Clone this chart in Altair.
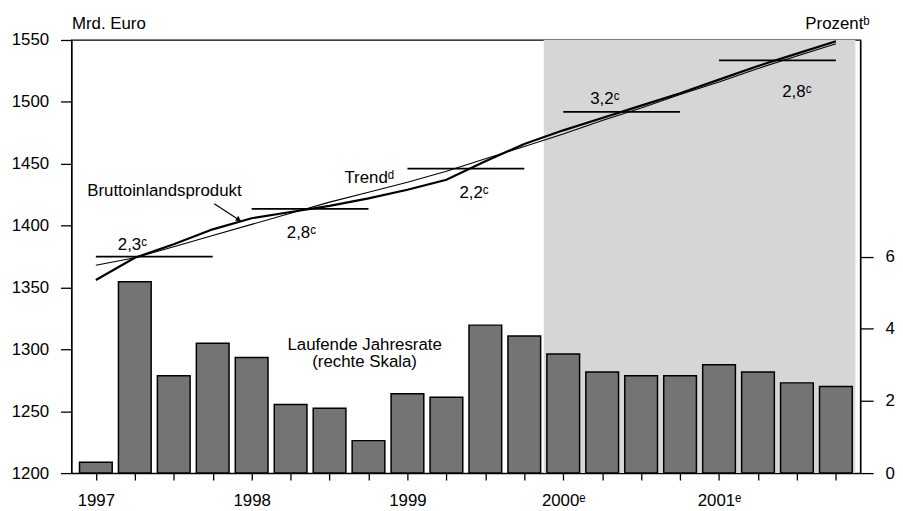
import altair as alt
import pandas as pd

# ---------------- data ----------------
years = [1997, 1998, 1999, 2000, 2001]
year_labels = ["1997", "1998", "1999", "2000ᵉ", "2001ᵉ"]
quarters = [f"{y} Q{k}" for y in years for k in range(1, 5)]

# laufende Jahresrate, Prozent (rechte Skala)
rate = [0.3, 5.3, 2.7, 3.6, 3.2, 1.9, 1.8, 0.9, 2.2, 2.1,
        4.1, 3.8, 3.3, 2.8, 2.7, 2.7, 3.0, 2.8, 2.5, 2.4]
# Bruttoinlandsprodukt, Mrd. Euro
gdp = [1356, 1374, 1385, 1397, 1406, 1411, 1416, 1422, 1429, 1437,
       1452, 1466, 1477, 1487, 1497, 1507, 1518, 1529, 1539, 1549]
# Trend, Mrd. Euro
trend = [1368, 1374, 1383, 1392, 1401, 1410, 1419, 1427, 1435, 1444,
         1454, 1464, 1474, 1485, 1495, 1506, 1516, 1527, 1537, 1547]

# annual averages (horizontal segments) and growth labels
annual_level = [1375, 1413.6, 1446, 1492, 1533.6]
annual_growth = ["2,3ᶜ", "2,8ᶜ", "2,2ᶜ", "3,2ᶜ", "2,8ᶜ"]
growth_label_q = [0.94, 5.28, 9.71, 13.07, 18.0]
growth_label_val = [1384, 1393.6, 1426.4, 1502.4, 1508]

notes_text = ["Bruttoinlandsprodukt", "Trendᵈ", "Laufende Jahresrate", "(rechte Skala)"]
notes_q = [1.76, 7.02, 6.9, 6.9]
notes_val = [1428, 1438.4, 1303.5, 1289.6]

arrow_from = [3.04, 1417.6]
arrow_to = [3.67, 1404.8]

forecast_start = "2000 Q1"

left_domain = [1200, 1550]
left_ticks = [1200, 1250, 1300, 1350, 1400, 1450, 1500, 1550]
right_domain = [0, 12]
right_ticks = [0, 2, 4, 6]

# ---------------- tables ----------------
n = len(quarters)
df = pd.DataFrame({"q": list(range(n)), "quarter": quarters,
                   "rate": rate, "gdp": gdp, "trend": trend})

fs = quarters.index(forecast_start)
shade_df = pd.DataFrame({"q": [fs - 0.5], "x1": [n - 0.5],
                         "rate": [right_domain[0]], "y1": [right_domain[1]]})

seg_df = pd.DataFrame({"q": [4 * i for i in range(len(years))],
                       "end": [4 * i + 3 for i in range(len(years))],
                       "gdp": annual_level})
glab_df = pd.DataFrame({"q": growth_label_q, "gdp": growth_label_val, "label": annual_growth})
notes_df = pd.DataFrame({"q": notes_q, "gdp": notes_val, "txt": notes_text})
arrow_df = pd.DataFrame({"q": [arrow_from[0]], "gdp": [arrow_from[1]],
                         "bx": [arrow_to[0]], "by": [arrow_to[1]]})

xlabels = [year_labels[i // 4] if i % 4 == 0 else "" for i in range(n)]
labels_js = "[" + ",".join("'" + s + "'" for s in xlabels) + "]"

FONT = "Liberation Sans"
FS = 17

xscale = alt.Scale(domain=[-0.5, n - 0.5], nice=False, zero=False)
xaxis = alt.Axis(values=list(range(n)), labelExpr=labels_js + "[datum.value]",
                 tickSize=7, labelPadding=13, labelAngle=0)
yR = alt.Scale(domain=right_domain, nice=False, zero=True)
yL = alt.Scale(domain=left_domain, nice=False, zero=False)
raxis = alt.Axis(orient="right", values=right_ticks, format="d",
                 titleAngle=0, titleAlign="right", titleBaseline="middle",
                 titleX=9, titleY=-17, tickSize=13, labelPadding=12)
laxis = alt.Axis(orient="left", values=left_ticks, format="d",
                 titleAngle=0, titleAlign="left", titleBaseline="middle",
                 titleX=0, titleY=-17, tickSize=11, labelPadding=12)


def X(field):
    return alt.X(field, scale=xscale, axis=xaxis, title=None)


def YR(field):
    return alt.Y(field, scale=yR, axis=raxis, title="Prozentᵇ")


def YL(field):
    return alt.Y(field, scale=yL, axis=laxis, title="Mrd. Euro")


# ---------------- right-scale group ----------------
shade = alt.Chart(shade_df).mark_rect(fill="#d6d6d6").encode(
    x=X("q:Q"), x2="x1:Q", y=YR("rate:Q"), y2="y1:Q",
)
bars = alt.Chart(df).mark_bar(size=33, fill="#747474", stroke="black", strokeWidth=1.5).encode(
    x=X("q:Q"), y=YR("rate:Q"),
)
group_right = alt.layer(shade, bars)

# ---------------- left-scale group ----------------
gdp_line = alt.Chart(df).mark_line(color="black", strokeWidth=2.2).encode(
    x=X("q:Q"), y=YL("gdp:Q"),
)
trend_line = alt.Chart(df).mark_line(color="black", strokeWidth=1.1).encode(
    x=X("q:Q"), y=YL("trend:Q"),
)
segs = alt.Chart(seg_df).mark_rule(color="black", strokeWidth=1.8).encode(
    x=X("q:Q"), x2="end:Q", y=YL("gdp:Q"),
)
glabels = alt.Chart(glab_df).mark_text(font=FONT, fontSize=FS, color="black",
                                       align="center", baseline="middle").encode(
    x=X("q:Q"), y=YL("gdp:Q"), text="label:N",
)
notes = alt.Chart(notes_df).mark_text(font=FONT, fontSize=FS, color="black",
                                      align="center", baseline="middle").encode(
    x=X("q:Q"), y=YL("gdp:Q"), text="txt:N",
)
arrow_line = alt.Chart(arrow_df).mark_rule(color="black", strokeWidth=1.2).encode(
    x=X("q:Q"), x2="bx:Q", y=YL("gdp:Q"), y2="by:Q",
)
arrow_head = alt.Chart(arrow_df).mark_point(shape="triangle-up", angle=123, size=35,
                                            filled=True, color="black", opacity=1).encode(
    x=alt.X("bx:Q", scale=xscale, axis=xaxis, title=None),
    y=alt.Y("by:Q", scale=yL, axis=laxis, title="Mrd. Euro"),
)

group_left = alt.layer(gdp_line, trend_line, segs, glabels, notes, arrow_line, arrow_head)

chart = alt.layer(group_right, group_left).resolve_scale(y="independent").properties(
    width=796, height=437,
    padding={"left": 64, "top": 30, "right": 35, "bottom": 42},
    autosize=alt.AutoSizeParams(type="none"),
).configure_axis(
    labelFont=FONT, labelFontSize=FS, labelColor="black",
    titleFont=FONT, titleFontSize=FS, titleFontWeight="normal", titleColor="black",
    tickColor="black", domainColor="black", tickWidth=1.3, domainWidth=1.3, grid=False,
).configure_view(stroke="black", strokeWidth=1.3)

chart.save("out.html", embed_options={"renderer": "svg", "actions": False})
